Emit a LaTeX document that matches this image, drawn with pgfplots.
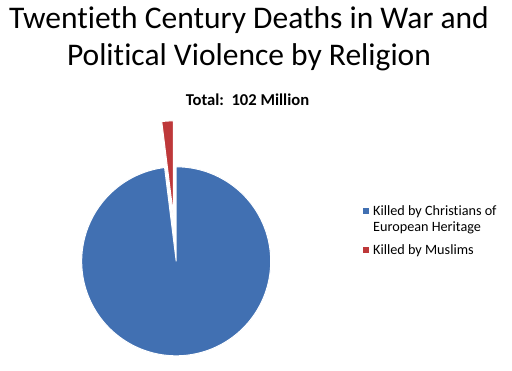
\documentclass[border=0pt]{standalone}
\usepackage{pgfplots}
\pgfplotsset{compat=1.18}
\usepackage{pgfplotstable}
\usepackage{fontspec}
\setmainfont{Carlito}[Ligatures=NoCommon]
\definecolor{pieblue}{RGB}{65,112,178}
\definecolor{piered}{RGB}{190,56,58}
\pgfplotstableread{
label value
Christians 100
Muslims 2
}\piedata
\begin{document}
\begin{tikzpicture}[x=1pt,y=1pt]
\path[use as bounding box] (0,0) rectangle (512,-370);
\pgfplotstablegetelem{0}{value}\of\piedata \let\vA\pgfplotsretval
\pgfplotstablegetelem{1}{value}\of\piedata \let\vB\pgfplotsretval
\pgfmathsetmacro\fracA{\vA/(\vA+\vB)}
\pgfmathsetmacro\fracB{\vB/(\vA+\vB)}
\pgfmathsetmacro\startA{90-360*\fracA}
\pgfmathsetmacro\endB{90+360*\fracB}
\pgfmathsetmacro\midB{(90+\endB)/2}
\pgfmathsetmacro\ex{0.487*cos(\midB)}
\pgfmathsetmacro\ey{0.487*sin(\midB)}
\begin{axis}[hide axis, x=94.5pt, y=94.5pt, xmin=-1, xmax=1, ymin=-1, ymax=1.6,
  anchor=origin, at={(176.2pt,-261.3pt)}, clip=false]
\addplot[fill=pieblue, draw=white, line width=1pt, domain=\startA:90, samples=240, variable=\t]
  ({cos(\t)},{sin(\t)}) -- (axis cs:0,0) -- cycle;
\addplot[fill=piered, draw=white, line width=1pt, domain=90:\endB, samples=12, variable=\t]
  ({\ex+cos(\t)},{\ey+sin(\t)}) -- (axis cs:\ex,\ey) -- cycle;
\end{axis}
\node[anchor=base, font=\fontsize{31.5}{38}\selectfont] at (249,-28.3) {Twentieth Century Deaths in War and};
\node[anchor=base, font=\fontsize{31.5}{38}\selectfont] at (249,-65.7) {Political Violence by Religion};
\node[anchor=base, font=\bfseries\fontsize{16.6}{19}\selectfont] at (247.5,-105) {Total:\ \ 102 Million};
\fill[pieblue] (362.7,-207.8) rectangle (369.3,-214.4);
\node[anchor=base west, inner sep=0, font=\fontsize{14.2}{17}\selectfont] at (373,-215) {Killed by Christians of};
\node[anchor=base west, inner sep=0, font=\fontsize{14.2}{17}\selectfont] at (373,-231) {European Heritage};
\fill[piered] (362.7,-246.6) rectangle (369.3,-253.2);
\node[anchor=base west, inner sep=0, font=\fontsize{14.2}{17}\selectfont] at (373,-254) {Killed by Muslims};
\end{tikzpicture}
\end{document}
